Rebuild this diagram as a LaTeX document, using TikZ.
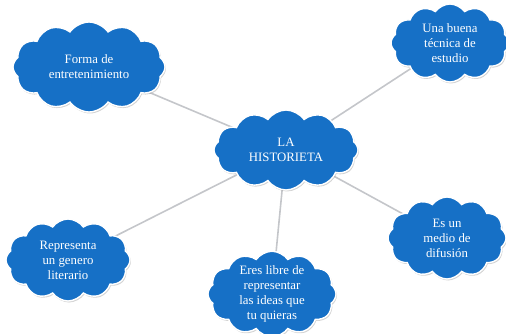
\documentclass[tikz,border=0pt]{standalone}
\usepackage{fontspec}
\setmainfont{Liberation Serif}
\usetikzlibrary{shapes.symbols,shadows,backgrounds}
\definecolor{nube}{RGB}{22,112,198}
\definecolor{linea}{RGB}{196,198,202}

\begin{document}
\begin{tikzpicture}[x=1pt, y=-1pt, every node/.style={font=\fontsize{12.8}{15}\selectfont},
  c/.style={cloud, cloud puffs=12, cloud puff arc=110, aspect=1.7, draw=white, line width=1.4pt, fill=nube, text=white, align=center, inner sep=-3pt,
    drop shadow={opacity=0.35, shadow xshift=1pt, shadow yshift=-1.5pt}},
  l/.style={draw=linea, line width=1.6pt}]
\useasboundingbox (0,0) rectangle (506,334);
\node[c, minimum width=144pt, minimum height=80pt] (hist) at (286,150) {LA\\HISTORIETA};
\node[c, minimum width=152pt, minimum height=90pt] (forma) at (89,67) {Forma de\\entretenimiento};
\node[c, minimum width=118pt, minimum height=78pt] (tecnica) at (450,43) {Una buena\\técnica de\\estudio};
\node[c, minimum width=124pt, minimum height=82pt] (genero) at (68,260) {Representa\\un genero\\literario};
\node[c, minimum width=128pt, minimum height=82pt] (libre) at (272,294) {Eres libre de\\representar\\las ideas que\\tu quieras};
\node[c, minimum width=118pt, minimum height=82pt] (medio) at (447,238) {Es un\\medio de\\difusión};
\begin{pgfonlayer}{background}
\draw[l] (forma.center) -- (hist.center);
\draw[l] (tecnica.center) -- (hist.center);
\draw[l] (genero.center) -- (hist.center);
\draw[l] (libre.center) -- (hist.center);
\draw[l] (medio.center) -- (hist.center);
\end{pgfonlayer}
\end{tikzpicture}
\end{document}
